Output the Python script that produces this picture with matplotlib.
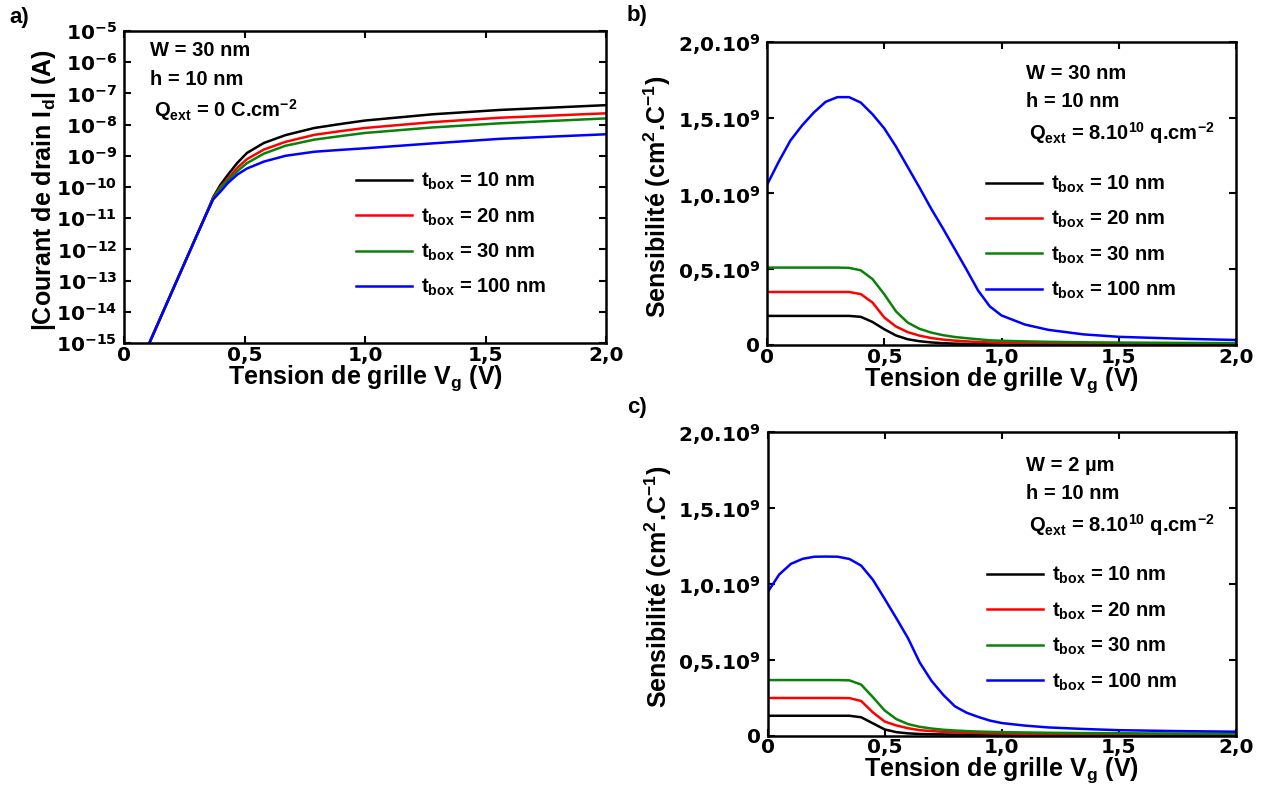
import matplotlib
matplotlib.use("Agg")
import matplotlib.pyplot as plt
from matplotlib.ticker import FixedLocator, FixedFormatter, NullLocator

plt.rcParams['font.family'] = ['Liberation Sans', 'DejaVu Sans']
plt.rcParams['font.weight'] = 'bold'
plt.rcParams['mathtext.fontset'] = 'custom'
plt.rcParams['mathtext.default'] = 'regular'
plt.rcParams['mathtext.rm'] = 'Liberation Sans:bold'
plt.rcParams['mathtext.it'] = 'Liberation Sans:bold'
plt.rcParams['mathtext.bf'] = 'Liberation Sans:bold'

# ---------------- data ----------------
series_labels = [r"t$_{box}$ = 10 nm", r"t$_{box}$ = 20 nm",
                 r"t$_{box}$ = 30 nm", r"t$_{box}$ = 100 nm"]
series_colors = ["#000000", "#ff0000", "#0a820a", "#0000ff"]

# panel a : drain current (A) vs gate voltage (V)
vg_a = [0.10, 0.20, 0.30, 0.34, 0.37, 0.40, 0.43, 0.47, 0.51, 0.58, 0.67,
        0.79, 0.90, 1.00, 1.28, 1.56, 2.00]
id_a_10 = [8.1e-16, 4.6e-14, 2.6e-12, 1.29e-11, 4.7e-11, 1.17e-10, 2.4e-10,
           5.9e-10, 1.23e-9, 2.57e-9, 4.6e-9, 7.8e-9, 1.05e-8, 1.35e-8,
           2.14e-8, 2.95e-8, 4.2e-8]
id_a_20 = [8.1e-16, 4.6e-14, 2.6e-12, 1.29e-11, 4.4e-11, 1.0e-10, 1.82e-10,
           4.1e-10, 7.8e-10, 1.58e-9, 2.8e-9, 4.7e-9, 6.2e-9, 7.8e-9,
           1.2e-8, 1.66e-8, 2.3e-8]
id_a_30 = [8.1e-16, 4.6e-14, 2.6e-12, 1.29e-11, 4.2e-11, 9.3e-11, 1.62e-10,
           3.2e-10, 5.8e-10, 1.17e-9, 2.1e-9, 3.3e-9, 4.3e-9, 5.4e-9,
           8.1e-9, 1.1e-8, 1.58e-8]
id_a_100 = [8.1e-16, 4.6e-14, 2.6e-12, 1.29e-11, 4.0e-11, 7.1e-11, 1.32e-10,
            2.5e-10, 3.9e-10, 6.5e-10, 1.0e-9, 1.35e-9, 1.55e-9, 1.74e-9,
            2.5e-9, 3.5e-9, 4.9e-9]

# panels b and c : sensitivity (units of 1e9 cm2/C) vs gate voltage (V)
vg_s = [0.00, 0.05, 0.10, 0.15, 0.20, 0.25, 0.30, 0.35, 0.40, 0.45, 0.50,
        0.55, 0.60, 0.65, 0.70, 0.75, 0.80, 0.85, 0.90, 0.95, 1.00, 1.10,
        1.20, 1.35, 1.50, 1.75, 2.00]

s_b_10 = [0.192, 0.192, 0.192, 0.192, 0.192, 0.192, 0.192, 0.192, 0.186, 0.152,
          0.104, 0.063, 0.038, 0.025, 0.017, 0.012, 0.009, 0.007, 0.006, 0.005,
          0.0045, 0.004, 0.0035, 0.003, 0.003, 0.003, 0.003]
s_b_20 = [0.350, 0.350, 0.350, 0.350, 0.350, 0.350, 0.350, 0.350, 0.336, 0.280,
          0.182, 0.122, 0.085, 0.062, 0.046, 0.036, 0.029, 0.024, 0.020, 0.017,
          0.015, 0.012, 0.010, 0.008, 0.007, 0.006, 0.005]
s_b_30 = [0.511, 0.511, 0.511, 0.511, 0.511, 0.511, 0.511, 0.509, 0.493, 0.435,
          0.335, 0.222, 0.148, 0.107, 0.082, 0.065, 0.053, 0.045, 0.038, 0.031,
          0.028, 0.024, 0.021, 0.018, 0.016, 0.014, 0.012]
s_b_100 = [1.057, 1.210, 1.350, 1.450, 1.535, 1.605, 1.636, 1.636, 1.600, 1.523,
           1.430, 1.310, 1.175, 1.040, 0.900, 0.770, 0.635, 0.500, 0.360, 0.255,
           0.195, 0.135, 0.100, 0.070, 0.054, 0.042, 0.033]

s_c_10 = [0.130, 0.130, 0.130, 0.130, 0.130, 0.130, 0.130, 0.130, 0.120, 0.080,
          0.040, 0.022, 0.014, 0.010, 0.008, 0.007, 0.006, 0.006, 0.005, 0.005,
          0.005, 0.005, 0.004, 0.004, 0.004, 0.004, 0.004]
s_c_20 = [0.247, 0.247, 0.247, 0.247, 0.247, 0.247, 0.247, 0.246, 0.227, 0.152,
          0.092, 0.066, 0.048, 0.035, 0.029, 0.024, 0.021, 0.018, 0.016, 0.014,
          0.013, 0.011, 0.010, 0.009, 0.008, 0.008, 0.008]
s_c_30 = [0.365, 0.365, 0.365, 0.365, 0.365, 0.365, 0.365, 0.363, 0.335, 0.252,
          0.165, 0.108, 0.075, 0.057, 0.046, 0.038, 0.033, 0.029, 0.026, 0.024,
          0.022, 0.020, 0.018, 0.016, 0.015, 0.013, 0.012]
s_c_100 = [0.942, 1.060, 1.130, 1.163, 1.177, 1.178, 1.177, 1.162, 1.118, 1.025,
           0.900, 0.772, 0.640, 0.480, 0.360, 0.268, 0.192, 0.150, 0.122, 0.098,
           0.082, 0.065, 0.053, 0.043, 0.035, 0.029, 0.025]

x_ticks = [0, 0.5, 1.0, 1.5, 2.0]
x_ticklabels = ["0", "0,5", "1,0", "1,5", "2,0"]
a_yticks = [1e-15, 1e-14, 1e-13, 1e-12, 1e-11, 1e-10, 1e-9, 1e-8, 1e-7, 1e-6, 1e-5]
a_yticklabels = [r"10$^{-15}$", r"10$^{-14}$", r"10$^{-13}$", r"10$^{-12}$",
                 r"10$^{-11}$", r"10$^{-10}$", r"10$^{-9}$", r"10$^{-8}$",
                 r"10$^{-7}$", r"10$^{-6}$", r"10$^{-5}$"]
s_yticks = [0, 0.5, 1.0, 1.5, 2.0]
s_yticklabels = ["0", r"0,5.10$^{9}$", r"1,0.10$^{9}$", r"1,5.10$^{9}$", r"2,0.10$^{9}$"]

xlabel = r"Tension de grille V$_{g}$ (V)"
ylabel_a = r"|Courant de drain I$_{d}$| (A)"
ylabel_s = r"Sensibilité (cm$^{2}$.C$^{-1}$)"

# ---------------- figure ----------------
fig = plt.figure(figsize=(12.64, 7.92), dpi=100)
W, H = 1264, 792

def add_ax(left, top, right, bottom):
    return fig.add_axes([left / W, 1 - bottom / H, (right - left) / W, (bottom - top) / H])

ax_a = add_ax(124, 31, 606, 343)
ax_b = add_ax(767, 42, 1236, 345)
ax_c = add_ax(767.5, 431.7, 1236, 735.5)

TICK_FAMILY = ['DejaVu Sans']
TICK_SIZE = 14.5
LABEL_SIZE = 18
TEXT_SIZE = 14.5

def style(ax):
    for sp in ax.spines.values():
        sp.set_linewidth(1.8)
    ax.tick_params(which='both', direction='in', top=True, right=True,
                   length=5, width=1.5)
    ax.tick_params(axis='x', pad=2)
    ax.tick_params(axis='y', pad=5)
    ax.set_xlim(0, 2.0)
    ax.xaxis.set_major_locator(FixedLocator(x_ticks))
    ax.xaxis.set_major_formatter(FixedFormatter(x_ticklabels))
    ax.xaxis.set_minor_locator(NullLocator())
    ax.set_xlabel(xlabel, fontsize=LABEL_SIZE, fontweight='bold')
    ax.xaxis.set_label_coords(0.5, -0.066)
    ax.xaxis.label.set_va('top')

# panel a
for y, c, lab in zip([id_a_10, id_a_20, id_a_30, id_a_100], series_colors, series_labels):
    ax_a.plot(vg_a, y, color=c, lw=1.8, label=lab)
ax_a.set_yscale('log')
ax_a.set_ylim(1e-15, 1e-5)
style(ax_a)
ax_a.yaxis.set_major_locator(FixedLocator(a_yticks))
ax_a.yaxis.set_major_formatter(FixedFormatter(a_yticklabels))
ax_a.yaxis.set_minor_locator(NullLocator())
ax_a.set_ylabel(ylabel_a, fontsize=LABEL_SIZE, fontweight='bold')
ax_a.yaxis.set_label_coords(-0.136, 0.49)

# panel b
for y, c, lab in zip([s_b_10, s_b_20, s_b_30, s_b_100], series_colors, series_labels):
    ax_b.plot(vg_s, y, color=c, lw=1.8, label=lab)
# panel c
for y, c, lab in zip([s_c_10, s_c_20, s_c_30, s_c_100], series_colors, series_labels):
    ax_c.plot(vg_s, y, color=c, lw=1.8, label=lab)

for ax in (ax_b, ax_c):
    ax.set_ylim(0, 2.0)
    style(ax)
    ax.yaxis.set_major_locator(FixedLocator(s_yticks))
    ax.yaxis.set_major_formatter(FixedFormatter(s_yticklabels))
    ax.yaxis.set_minor_locator(NullLocator())
    ax.set_ylabel(ylabel_s, fontsize=LABEL_SIZE, fontweight='bold')
    ax.yaxis.set_label_coords(-0.20, 0.49)

for ax in (ax_a, ax_b, ax_c):
    for lab in ax.get_xticklabels() + ax.get_yticklabels():
        lab.set_family(TICK_FAMILY)
        lab.set_weight('bold')
        lab.set_size(TICK_SIZE)

# legends
leg_pos = {ax_a: (0.481, 0.347), ax_b: (0.467, 0.355), ax_c: (0.468, 0.351)}
for ax, (lx, ly) in leg_pos.items():
    ax.legend(loc='center left', bbox_to_anchor=(lx, ly), frameon=False,
              borderpad=0, borderaxespad=0, handlelength=2.8, handletextpad=0.45,
              labelspacing=0.7, prop=dict(size=TEXT_SIZE, weight='bold'))

# annotations
def annot(ax, x1, y1, y2, x3, y3, wtxt, qtxt):
    kw = dict(transform=ax.transAxes, fontsize=TEXT_SIZE, fontweight='bold',
              ha='left', va='center')
    ax.text(x1, y1, wtxt, **kw)
    ax.text(x1, y2, "h = 10 nm", **kw)
    ax.text(x3, y3, qtxt, **kw)

annot(ax_a, 0.054, 0.937, 0.846, 0.062, 0.747, "W = 30 nm",
      r"Q$_{ext}$ = 0 C.cm$^{-2}$")
annot(ax_b, 0.552, 0.897, 0.803, 0.559, 0.700, "W = 30 nm",
      r"Q$_{ext}$ = 8.10$^{10}$ q.cm$^{-2}$")
annot(ax_c, 0.552, 0.890, 0.797, 0.559, 0.693, "W = 2 µm",
      r"Q$_{ext}$ = 8.10$^{10}$ q.cm$^{-2}$")

# panel letters
fig.text(9 / W, 1 - 18 / H, "a)", fontsize=16, fontweight='bold', va='center', ha='left')
fig.text(627 / W, 1 - 15 / H, "b)", fontsize=16, fontweight='bold', va='center', ha='left')
fig.text(627 / W, 1 - 408 / H, "c)", fontsize=16, fontweight='bold', va='center', ha='left')

fig.savefig("out.png", dpi=100)
